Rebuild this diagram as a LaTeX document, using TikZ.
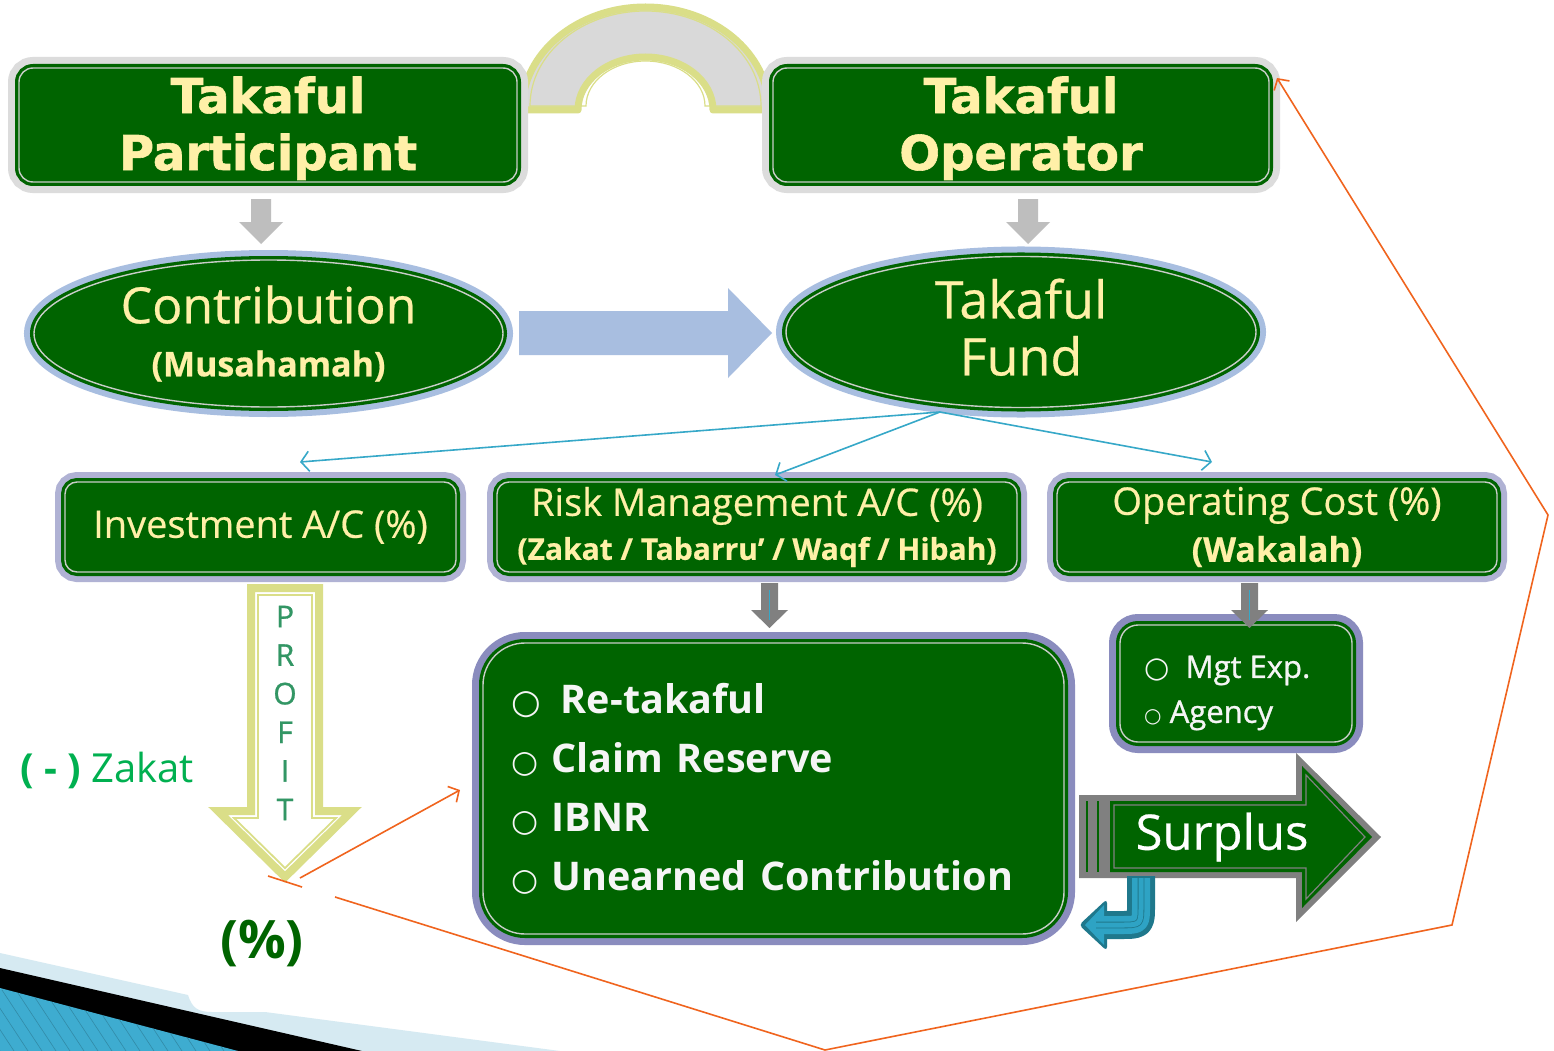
\documentclass[tikz,border=0pt]{standalone}
\usepackage{fontspec}
\setmainfont{Open Sans}
\newfontfamily\heavy[FakeBold=1.2]{DejaVu Sans}
\newfontfamily\symf{DejaVu Sans}
\newfontfamily\semib[FakeBold=1.0]{Open Sans}
\newfontfamily\medium[FakeBold=0.5]{Open Sans}
\usetikzlibrary{shapes.geometric,arrows.meta}
\definecolor{dkgreen}{RGB}{0,100,0}
\definecolor{cream}{RGB}{255,240,168}
\definecolor{grayhalo}{RGB}{220,220,220}
\definecolor{bluehalo}{RGB}{168,190,224}
\definecolor{lavhalo}{RGB}{176,178,212}
\definecolor{purphalo}{RGB}{138,140,190}
\definecolor{archgray}{RGB}{217,217,217}
\definecolor{archyel}{RGB}{218,222,136}
\definecolor{thinblue}{RGB}{54,168,200}
\definecolor{orng}{RGB}{240,100,30}
\definecolor{zakgreen}{RGB}{0,176,80}
\definecolor{profgreen}{RGB}{50,150,100}
\definecolor{ltarrow}{RGB}{190,190,190}
\definecolor{dkarrow}{RGB}{128,128,128}
\definecolor{tealdark}{RGB}{31,120,140}
\definecolor{teallight}{RGB}{46,163,196}
\definecolor{bandblue}{RGB}{214,234,242}
\definecolor{cornerblue}{RGB}{62,172,208}
\definecolor{innerline}{RGB}{200,205,200}
\begin{document}
\begin{tikzpicture}[x=1pt,y=-1pt,
  haloed/.style 2 args={preaction={draw=#1,line width=#2},
     preaction={draw=dkgreen,line width=8},
     fill=dkgreen,draw=innerline,line width=1.4,inner sep=0pt},
  topbox/.style={haloed={grayhalo}{22},rectangle,rounded corners=14,
     align=center,text=cream,font=\heavy\bfseries\fontsize{48}{57}\selectfont},
  ovalbox/.style={haloed={bluehalo}{20},ellipse,align=center,text=cream},
  midbox/.style={haloed={lavhalo}{20},rectangle,rounded corners=12,
     align=center,text=cream},
  listbox/.style={haloed={purphalo}{22},rectangle,align=left,text=white!96!black},
  thinarrow/.style={draw=thinblue,line width=1.6,-{Straight Barb[length=8,width=20,line width=1.6]}},
  orline/.style={draw=orng,line width=1.6},
  orarrow/.style={orline,-{Straight Barb[length=8,width=18,line width=1.6]}}
]
\useasboundingbox (0,0) rectangle (1554,1051);
\fill[white] (0,0) rectangle (1554,1051);

% bottom-left decoration
\fill[bandblue] (0,953) -- (188,995) .. controls (192,1008) and (198,1012) .. (212,1012) -- (265,1012) -- (560,1051) -- (0,1051) -- cycle;
\fill[black] (0,968) -- (362,1051) -- (0,1051) -- cycle;
\fill[cornerblue] (0,988) -- (238,1051) -- (0,1051) -- cycle;
\begin{scope}
\clip (0,988) -- (238,1051) -- (0,1051) -- cycle;
\foreach \i in {0,14,...,260} {\draw[cornerblue!80!black,line width=0.6] (\i-40,990) -- (\i,1051);}
\end{scope}

% arch
\draw[archyel,line width=7,fill=archgray,line join=round]
  (522,110) arc[start angle=180,end angle=360,x radius=123.5,y radius=103]
  -- (713,110) arc[start angle=0,end angle=-180,x radius=67.5,y radius=53] -- cycle;
\draw[archyel,line width=1.2]
  (530,106) arc[start angle=180,end angle=360,x radius=115.5,y radius=95]
  -- (705,106) arc[start angle=0,end angle=-180,x radius=59.5,y radius=45] -- cycle;

% top boxes
\node[topbox,minimum width=498,minimum height=114] (part) at (268,125) {\rule{0pt}{43pt}Takaful\\Participant};
\node[topbox,minimum width=496,minimum height=114] (oper) at (1021,125) {\rule{0pt}{43pt}Takaful\\Operator};

% small gray arrows
\fill[ltarrow] (251,199) -- (271,199) -- (271,222) -- (283,222) -- (261,244) -- (239,222) -- (251,222) -- cycle;
\fill[ltarrow] (1018,199) -- (1038,199) -- (1038,222) -- (1050,222) -- (1028,244) -- (1006,222) -- (1018,222) -- cycle;

% ellipses
\node[ovalbox,minimum width=469,minimum height=147,font=\medium\fontsize{50}{53}\selectfont] (contrib) at (268.5,333.5)
  {Contribution\\\bfseries\fontsize{34}{53}\selectfont (Musahamah)};
\node[ovalbox,minimum width=470,minimum height=148,font=\medium\fontsize{52}{57}\selectfont] (fund) at (1021,332)
  {Takaful\\Fund\rule[-10pt]{0pt}{10pt}};

% big blue arrow
\fill[bluehalo] (519,311) -- (728,311) -- (728,288) -- (772,333) -- (728,378) -- (728,355) -- (519,355) -- cycle;

% middle boxes
\node[midbox,minimum width=391,minimum height=90,font=\medium\fontsize{38}{44}\selectfont] (inv) at (260.5,527)
  {Investment A/C (\%)};
\node[midbox,minimum width=520,minimum height=90,font=\medium\fontsize{38}{44}\selectfont] (risk) at (757,527)
  {Risk Management A/C (\%)\\
   \bfseries\fontsize{30}{44}\selectfont (Zakat / Tabarru’ / Waqf / Hibah)};
\node[midbox,minimum width=440,minimum height=90,font=\medium\fontsize{38}{47}\selectfont] (opc) at (1277,527)
  {Operating Cost (\%)\\
   \bfseries\fontsize{34}{47}\selectfont (Wakalah)};

% thin blue arrows
\coordinate (fb) at (940,412);
\coordinate (ta) at (300,462);
\coordinate (tb) at (775,475);
\coordinate (tc) at (1212,462);
\draw[thinarrow] (fb) -- (ta);
\draw[thinarrow] (fb) -- (tb);
\draw[thinarrow] (fb) -- (tc);

% list boxes
\node[listbox,rounded corners=42,minimum width=581,minimum height=291,text width=530,
  font=\bfseries\fontsize{39.5}{59}\selectfont] (list) at (773.5,788.5)
  {\hspace{3pt}{\symf\mdseries\fontsize{34}{59}\selectfont ○}\ \,Re-takaful\\
   \hspace{3pt}{\symf\mdseries\fontsize{31}{59}\selectfont ○}\ Claim Reserve\\
   \hspace{3pt}{\symf\mdseries\fontsize{31}{59}\selectfont ○}\ IBNR\\
   \hspace{3pt}{\symf\mdseries\fontsize{31}{59}\selectfont ○}\ Unearned Contribution};
\node[listbox,rounded corners=18,minimum width=232,minimum height=117] (mgt) at (1236,683.5) {};
\node[anchor=west,align=left,text=white!96!black,inner sep=0,
  font=\semib\fontsize{31}{45}\selectfont] (mgttext) at (1144,693)
  {{\symf\mdseries\fontsize{29}{45}\selectfont ○}\ \ Mgt Exp.\\
   {\symf\mdseries\fontsize{20}{45}\selectfont ○}\ Agency};

% dark gray arrows
\fill[dkarrow] (761,583) -- (778,583) -- (778,610) -- (788,610) -- (769.5,628) -- (751,610) -- (761,610) -- cycle;
\draw[thinblue,line width=0.8] (769.5,590) -- (769.5,620);
\fill[dkarrow] (1241,583) -- (1258,583) -- (1258,610) -- (1268,610) -- (1249.5,628) -- (1231,610) -- (1241,610) -- cycle;
\draw[thinblue,line width=0.8] (1249.5,590) -- (1249.5,620);

% PROFIT arrow
\draw[archyel,line width=8,fill=white,miter limit=10]
  (251,588) -- (319,588) -- (319,811) -- (352,811) -- (285,877) -- (218,811) -- (251,811) -- cycle;
\draw[archyel,line width=1.8,miter limit=10]
  (258,595) -- (312,595) -- (312,818) -- (336,818) -- (285,868) -- (234,818) -- (258,818) -- cycle;
\node[align=center,text=profgreen,font=\semib\fontsize{30}{38.6}\selectfont] (profit) at (285,713)
  {P\\R\\O\\F\\I\\T};

% Zakat and percent
\node[text=zakgreen,font=\fontsize{40}{46}\selectfont] (zakat) at (107,770) {\textbf{( - )} Zakat};
\node[text=dkgreen,font=\bfseries\fontsize{53}{58}\selectfont] (pct) at (262,943) {(\%)};

% Surplus arrow
\fill[dkarrow] (1079,795) -- (1296,795) -- (1296,753) -- (1381,837) -- (1296,922) -- (1296,878) -- (1079,878) -- cycle;
\fill[dkgreen] (1110,801) -- (1302,801) -- (1302,766) -- (1372,837) -- (1302,908) -- (1302,872) -- (1110,872) -- cycle;
\draw[dkarrow,line width=1.2] (1114,805) -- (1306,805) -- (1306,775) -- (1365,837) -- (1306,899) -- (1306,868) -- (1114,868) -- cycle;
\draw[dkgreen,line width=2] (1087,801) -- (1087,872) (1098,801) -- (1098,872);
\node[text=white,font=\medium\fontsize{49}{54}\selectfont] (surplus) at (1222,837) {Surplus};

% U-turn arrow
\draw[tealdark,line width=28,line join=round] (1141,876) -- (1141,905) .. controls (1141,925) .. (1120,925) -- (1100,925);
\fill[tealdark,rounded corners=4] (1107,899) -- (1079,925) -- (1107,951) -- cycle;
\draw[teallight,line width=18,line join=round] (1141,878) -- (1141,905) .. controls (1141,925) .. (1120,925) -- (1100,925);
\fill[teallight] (1104,905) -- (1085,925) -- (1104,945) -- cycle;
\draw[tealdark,line width=0.8,double=teallight,double distance=5] (1141,878) -- (1141,905) .. controls (1141,925) .. (1120,925) -- (1096,925);

% orange connectors
\coordinate (oa) at (300,878);
\coordinate (ob) at (460,790);
\coordinate (o1) at (268,876);
\coordinate (o2) at (302,887);
\coordinate (o3) at (335,897);
\coordinate (o4) at (825,1050);
\coordinate (o5) at (1452,925);
\coordinate (o6) at (1548,515);
\coordinate (o7) at (1277,78);
\draw[orarrow] (oa) -- (ob);
\draw[orline] (o1) -- (o2);
\draw[orarrow,line join=miter] (o3) -- (o4) -- (o5) -- (o6) -- (o7);
\end{tikzpicture}
\end{document}
